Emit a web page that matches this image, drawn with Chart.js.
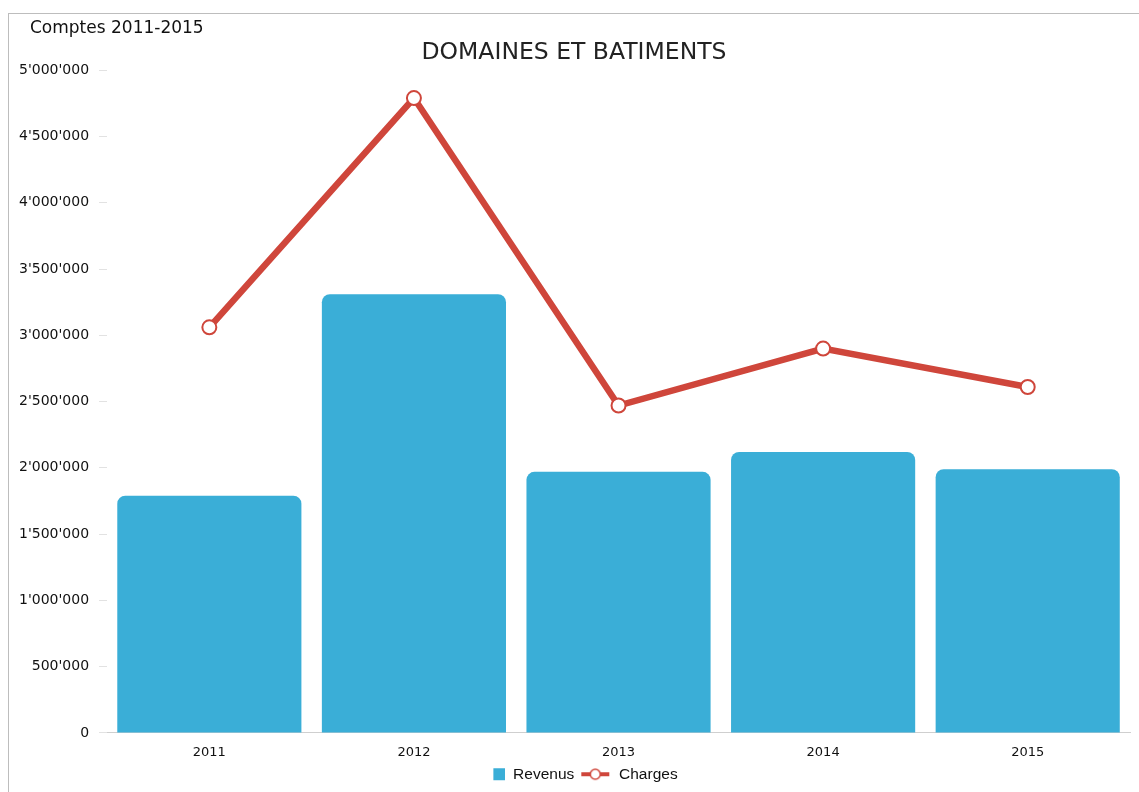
<!DOCTYPE html>
<html>
<head>
<meta charset="utf-8">
<script src="https://cdn.jsdelivr.net/npm/chart.js@4/dist/chart.umd.min.js"></script>
<style>
  html, body { margin:0; padding:0; background:#fff; }
  #frame {
    position:absolute; left:8px; top:13px; width:1131px; height:779px;
    border-left:1px solid #bdbdbd; border-top:1px solid #bdbdbd;
  }
  #frame canvas { display:block; }
  #caption {
    position:absolute; left:30px; top:17px; line-height:20px;
    font:17px 'DejaVu Sans', sans-serif; color:#111;
  }
</style>
</head>
<body>
<div id="frame"><canvas id="chart" width="1130" height="778"></canvas></div>
<div id="caption">Comptes 2011-2015</div>
<script>
// data
const years = ['2011', '2012', '2013', '2014', '2015'];
const revenus = [1790000, 3310000, 1970000, 2120000, 1990000];
const charges = [3060000, 4790000, 2470000, 2900000, 2610000];
const yTicks = [0, 500000, 1000000, 1500000, 2000000, 2500000, 3000000, 3500000, 4000000, 4500000, 5000000];

const BLUE = '#3aaed7';
const RED = '#cf463b';

const fmt = v => String(v).replace(/\B(?=(\d{3})+(?!\d))/g, "'");

// legend swatches (same width so the legend spacing stays even)
function lineSwatch(){
  const c = document.createElement('canvas');
  c.width = 35; c.height = 14;
  const g = c.getContext('2d');
  g.strokeStyle = RED; g.lineWidth = 4;
  g.beginPath(); g.moveTo(5, 7); g.lineTo(33, 7); g.stroke();
  g.beginPath(); g.arc(19, 7, 5, 0, Math.PI * 2);
  g.fillStyle = '#fff'; g.fill();
  g.lineWidth = 1.5; g.stroke();
  return c;
}
function boxSwatch(){
  const c = document.createElement('canvas');
  c.width = 35; c.height = 14;
  const g = c.getContext('2d');
  g.fillStyle = BLUE; g.fillRect(23, 1, 12, 12);
  return c;
}

const ctx = document.getElementById('chart');
new Chart(ctx, {
  data: {
    labels: years,
    datasets: [
      {
        type: 'line', label: 'Charges', data: charges, order: 0,
        borderColor: RED, borderWidth: 6.5, tension: 0,
        pointRadius: 7, pointBorderWidth: 2,
        pointBackgroundColor: '#fff', pointBorderColor: RED
      },
      {
        type: 'bar', label: 'Revenus', data: revenus, order: 1,
        backgroundColor: BLUE,
        borderRadius: { topLeft: 8, topRight: 8, bottomLeft: 0, bottomRight: 0 },
        borderSkipped: 'bottom',
        barPercentage: 0.9, categoryPercentage: 1
      }
    ]
  },
  options: {
    responsive: false, animation: false,
    layout: { padding: { left: 0, right: 0, bottom: 0 } },
    plugins: {
      title: {
        display: true, text: 'DOMAINES ET BATIMENTS',
        color: '#222', font: { family: 'DejaVu Sans', size: 23.5, weight: 'normal' },
        padding: { top: 25, bottom: 3 }
      },
      legend: {
        position: 'bottom',
        labels: {
          usePointStyle: true, pointStyleWidth: 35, boxHeight: 14, padding: 2,
          color: '#111', font: { family: 'Liberation Sans', size: 15.5 },
          generateLabels(chart){
            const items = Chart.defaults.plugins.legend.labels.generateLabels(chart);
            items.sort((a, b) => a.text === 'Revenus' ? -1 : 1);
            items.forEach(it => { it.pointStyle = it.text === 'Revenus' ? boxSwatch() : lineSwatch(); });
            return items;
          }
        }
      },
      tooltip: { enabled: false }
    },
    scales: {
      x: {
        grid: { display: false },
        border: { display: true, color: '#cfcfcf' },
        ticks: { color: '#111', font: { family: 'DejaVu Sans', size: 13 }, padding: 4 }
      },
      y: {
        min: 0, max: 5000000,
        afterBuildTicks(axis){ axis.ticks = yTicks.map(v => ({ value: v })); },
        grid: { drawOnChartArea: false, drawTicks: true, tickLength: 8, color: '#e2e2e2' },
        border: { display: false },
        ticks: { color: '#111', font: { family: 'DejaVu Sans', size: 14 }, padding: 10, callback: v => fmt(v) }
      }
    }
  }
});
</script>
</body>
</html>
